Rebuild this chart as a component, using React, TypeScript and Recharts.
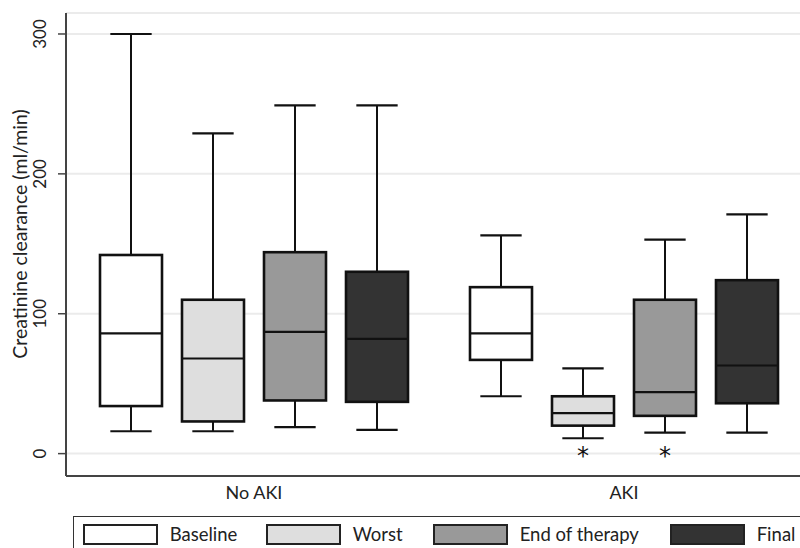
import React from 'react';
import { BarChart, Bar, XAxis, YAxis, CartesianGrid, Legend } from 'recharts';

// box plot stats per group: [min, q1, median, q3, max]
const groups = ['No AKI', 'AKI'];
const seriesNames = ['Baseline', 'Worst', 'End of therapy', 'Final'];
const seriesKeys = ['baseline', 'worst', 'endOfTherapy', 'final'];
const seriesColors = ['#ffffff', '#dedede', '#999999', '#333333'];

const baselineStats = [
  [16, 34, 86, 142, 300],
  [41, 67, 86, 119, 156],
];
const worstStats = [
  [16, 23, 68, 110, 229],
  [11, 20, 29, 41, 61],
];
const endOfTherapyStats = [
  [19, 38, 87, 144, 249],
  [15, 27, 44, 110, 153],
];
const finalStats = [
  [17, 37, 82, 130, 249],
  [15, 36, 63, 124, 171],
];

// significance markers shown under some boxes
const baselineMarkers = ['', ''];
const worstMarkers = ['', '*'];
const endOfTherapyMarkers = ['', '*'];
const finalMarkers = ['', ''];
const markerValue = 3;

const yTicks = [0, 100, 200, 300];
const yDomain = [-16, 315];

const allStats = [baselineStats, worstStats, endOfTherapyStats, finalStats];
const allMarkers = [baselineMarkers, worstMarkers, endOfTherapyMarkers, finalMarkers];

const data = groups.map((group, gi) => {
  const row: any = { group };
  seriesKeys.forEach((key, si) => {
    row[key] = allStats[si][gi];
    row[key + 'Marker'] = allMarkers[si][gi];
  });
  return row;
});

const FONT = 'Lato, "Open Sans", sans-serif';

const makeBoxShape = (key: string) => (props: any) => {
  const { x, y, width, height, payload, fill } = props;
  const stats = payload[key];
  if (!stats) return null;
  const [min, q1, med, q3, max] = stats;
  const k = height / (max - min);
  const py = (v: number) => y + (max - v) * k;
  const cx = x + width / 2;
  const capHalf = width / 3;
  const marker = payload[key + 'Marker'];
  return (
    <g>
      <line x1={cx} x2={cx} y1={py(max)} y2={py(q3)} stroke="#111" strokeWidth={2} />
      <line x1={cx} x2={cx} y1={py(q1)} y2={py(min)} stroke="#111" strokeWidth={2} />
      <line x1={cx - capHalf} x2={cx + capHalf} y1={py(max)} y2={py(max)} stroke="#111" strokeWidth={2.2} />
      <line x1={cx - capHalf} x2={cx + capHalf} y1={py(min)} y2={py(min)} stroke="#111" strokeWidth={2.2} />
      <rect x={x} y={py(q3)} width={width} height={py(q1) - py(q3)} fill={fill} stroke="#111" strokeWidth={2.6} />
      <line x1={x} x2={x + width} y1={py(med)} y2={py(med)} stroke="#111" strokeWidth={2.2} />
      {marker ? (
        <text x={cx} y={py(markerValue) + 15} textAnchor="middle" fontSize={24} fontFamily="DejaVu Sans, sans-serif" fill="#111">
          {marker}
        </text>
      ) : null}
    </g>
  );
};

const YTick = (props: any) => {
  const { x, y, payload } = props;
  const tx = x - 10;
  return (
    <text x={tx} y={y} transform={`rotate(-90 ${tx} ${y})`} textAnchor="middle" fontSize={17} fontFamily={FONT} fill="#222">
      {payload.value}
    </text>
  );
};

const XTick = (props: any) => {
  const { x, y, payload } = props;
  return (
    <text x={x} y={y + 23} textAnchor="middle" fontSize={18} fontFamily={FONT} fill="#222">
      {payload.value}
    </text>
  );
};

const itemLefts = [9, 192, 359, 596];

const renderLegend = () => (
  <div
    style={{
      position: 'relative',
      width: 760,
      height: 45,
      border: '1.5px solid #333',
      boxSizing: 'border-box',
      background: '#fff',
      fontFamily: FONT,
    }}
  >
    {seriesNames.map((name, i) => (
      <div key={name} style={{ position: 'absolute', left: itemLefts[i], top: 7, display: 'flex', alignItems: 'center', whiteSpace: 'nowrap' }}>
        <div
          style={{
            width: 75,
            height: 21,
            background: seriesColors[i],
            border: '2px solid #222',
            boxSizing: 'border-box',
          }}
        />
        <span style={{ marginLeft: 12, fontSize: 18.5, color: '#222', lineHeight: '21px' }}>{name}</span>
      </div>
    ))}
  </div>
);

const App = () => {
  return (
    <div
      style={{
        position: 'fixed',
        left: 0,
        top: 0,
        width: 800,
        height: 548,
        padding: '8px 0 0 8px',
        boxSizing: 'border-box',
        overflow: 'hidden',
        background: '#fff',
        fontFamily: FONT,
      }}
    >
      <BarChart
        width={830}
        height={580}
        data={data}
        margin={{ top: 5, right: 29, left: 8, bottom: 82 }}
        barSize={62}
        barGap={20}
      >
        <CartesianGrid horizontal vertical={false} stroke="#ebebeb" strokeWidth={2} />
        <XAxis
          dataKey="group"
          height={30}
          padding={{ left: 3, right: 0 }}
          tickLine={false}
          tickSize={0}
          tickMargin={0}
          axisLine={{ stroke: '#444', strokeWidth: 2 }}
          tick={<XTick />}
        />
        <YAxis
          width={50}
          type="number"
          domain={yDomain}
          ticks={yTicks}
          allowDataOverflow
          tickSize={8}
          tickMargin={2}
          tickLine={{ stroke: '#444', strokeWidth: 1.5 }}
          axisLine={{ stroke: '#444', strokeWidth: 2 }}
          tick={<YTick />}
          label={{
            value: 'Creatinine clearance (ml/min)',
            content: () => (
              <text x={19} y={226} transform="rotate(-90 19 226)" textAnchor="middle" fontSize={19.5} fontFamily={FONT} fill="#222">
                Creatinine clearance (ml/min)
              </text>
            ),
          }}
        />
        <Legend
          layout="vertical"
          align="center"
          verticalAlign="middle"
          content={renderLegend}
          wrapperStyle={{ left: 64.7, top: 507.7, width: 760, height: 45 }}
        />
        {seriesKeys.map((key, i) => (
          <Bar
            key={key}
            name={seriesNames[i]}
            dataKey={(d: any) => [d[key][0], d[key][4]]}
            fill={seriesColors[i]}
            shape={makeBoxShape(key)}
            isAnimationActive={false}
          />
        ))}
      </BarChart>
    </div>
  );
};

export default App;
